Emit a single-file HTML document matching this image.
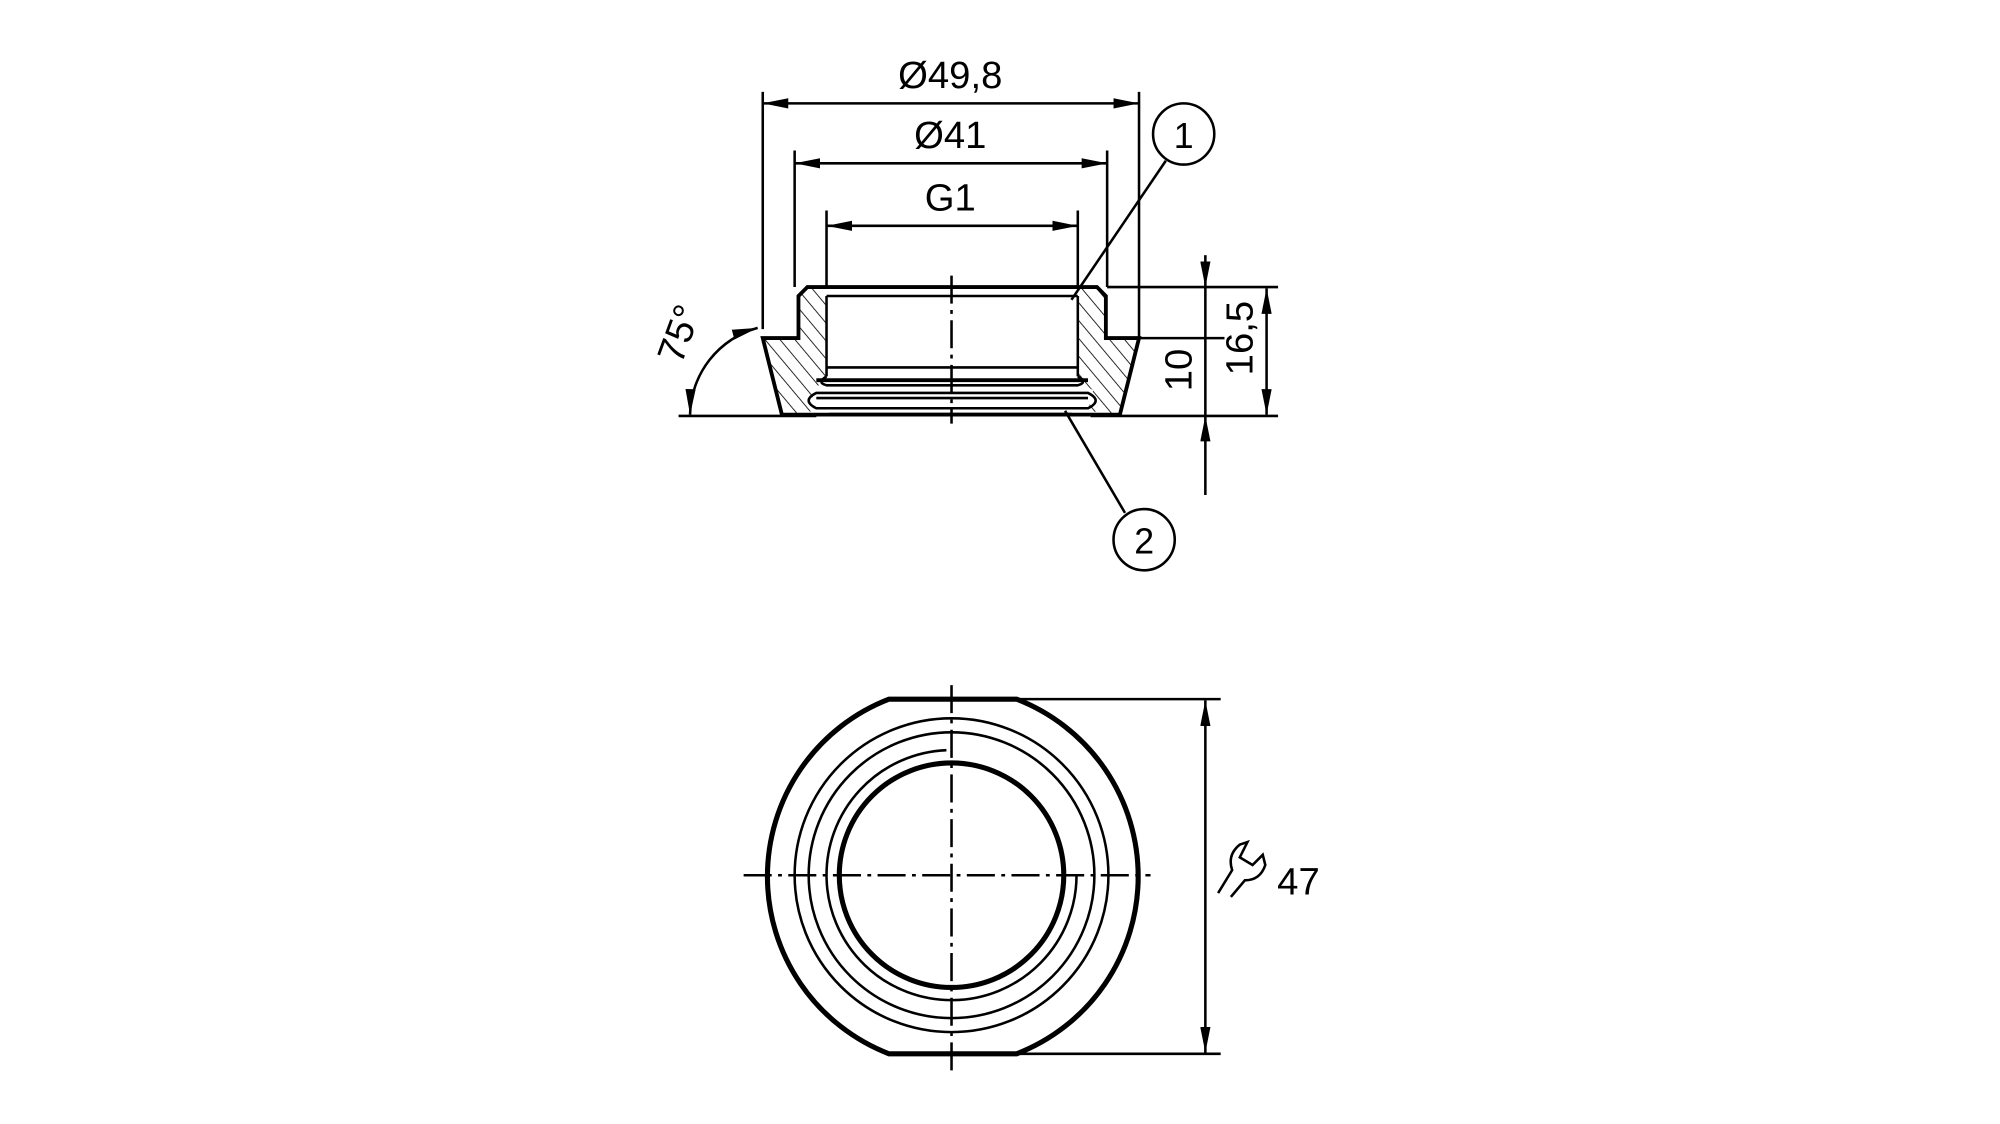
<!DOCTYPE html>
<html><head><meta charset="utf-8"><style>html,body{margin:0;padding:0;background:#fff}svg{display:block}</style></head><body>
<svg width="2000" height="1124" viewBox="0 0 1568 881" preserveAspectRatio="none" xmlns="http://www.w3.org/2000/svg" font-family="Liberation Sans, sans-serif">
<defs>
<marker id="a" viewBox="0 0 20 8" refX="20" refY="4" markerWidth="20" markerHeight="8" orient="auto-start-reverse" markerUnits="userSpaceOnUse"><path d="M0,0 L20,4 L0,8z" fill="#000"/></marker>
<pattern id="h" width="9" height="9" patternUnits="userSpaceOnUse" patternTransform="rotate(-40)"><line x1="0" y1="0" x2="0" y2="9" stroke="#000" stroke-width="1.3"/></pattern>
</defs>
<g stroke="#000" fill="none" stroke-width="2">
<line x1="598" y1="72" x2="598" y2="258"/><line x1="893" y1="72" x2="893" y2="265"/>
<line x1="623" y1="118" x2="623" y2="225"/><line x1="868" y1="118" x2="868" y2="225"/>
<line x1="648" y1="165" x2="648" y2="225"/><line x1="845" y1="165" x2="845" y2="225"/>
<line x1="598" y1="81" x2="893" y2="81" marker-start="url(#a)" marker-end="url(#a)"/>
<line x1="623" y1="128" x2="868" y2="128" marker-start="url(#a)" marker-end="url(#a)"/>
<line x1="648" y1="177" x2="845" y2="177" marker-start="url(#a)" marker-end="url(#a)"/>
<path d="M626,232 L632,225 L648,225 L648,298 L636,306 L640,322 L613,325 L598,265 L626,265 Z" fill="url(#h)" stroke="none"/>
<path d="M866,232 L860,225 L845,225 L845,298 L857,306 L853,322 L878,325 L893,265 L866,265 Z" fill="url(#h)" stroke="none"/>
<g stroke-width="3">
<path d="M598,265 L626,265 L626,232 L633,225 L860,225 L867,232 L867,265 L893,265 L878,325 L613,325 Z"/>
</g>
<line x1="648" y1="232" x2="845" y2="232"/>
<line x1="648" y1="232" x2="648" y2="295"/><line x1="845" y1="232" x2="845" y2="295"/>
<line x1="648" y1="288" x2="845" y2="288"/>
<path d="M648,295 Q640,300 648,302 L845,302 Q853,300 845,295" stroke-width="2"/>
<line x1="640" y1="298" x2="853" y2="298" stroke-width="3"/>
<path d="M640,308 Q628,314 640,320 L853,320 Q865,314 853,308 Z" stroke-width="2"/>
<line x1="640" y1="312" x2="853" y2="312"/>
<line x1="650" y1="325" x2="840" y2="325" stroke-width="3"/>
<line x1="532" y1="326" x2="640" y2="326"/>
<line x1="855" y1="326" x2="1002" y2="326"/>
<line x1="868" y1="225" x2="1002" y2="225"/>
<line x1="893" y1="265" x2="960" y2="265"/>
<line x1="945" y1="200" x2="945" y2="225" marker-end="url(#a)"/>
<line x1="945" y1="225" x2="945" y2="326"/>
<line x1="945" y1="388" x2="945" y2="326" marker-end="url(#a)"/>
<line x1="993" y1="226" x2="993" y2="325" marker-start="url(#a)" marker-end="url(#a)"/>
<line x1="746" y1="216" x2="746" y2="332" stroke-dasharray="22,5,3,5"/>
<circle cx="928" cy="105" r="24"/><line x1="914" y1="126" x2="840" y2="235"/>
<circle cx="897" cy="423" r="24"/><line x1="882" y1="402" x2="835" y2="322"/>
<path d="M541,325 A72,72 0 0 1 594,257" marker-start="url(#a)" marker-end="url(#a)"/>
<g stroke-width="4">
<path d="M697,548 L797,548 A149,149 0 0 1 797,826 L697,826 A149,149 0 0 1 697,548 Z"/>
<circle cx="746" cy="686" r="88"/>
</g>
<circle cx="746" cy="686" r="123"/>
<circle cx="746" cy="686" r="112"/>
<path d="M742,588 A98,98 0 1 0 844,686"/>
<line x1="583" y1="686" x2="902" y2="686" stroke-dasharray="22,5,3,5"/>
<line x1="746" y1="537" x2="746" y2="840" stroke-dasharray="22,5,3,5"/>
<line x1="797" y1="548" x2="957" y2="548"/><line x1="797" y1="826" x2="957" y2="826"/>
<line x1="945" y1="549" x2="945" y2="825" marker-start="url(#a)" marker-end="url(#a)"/>
<path d="M955,700 L966,682 Q962,670 972,662 L978,660 L972,672 L982,678 L990,670 L992,678 Q988,690 976,690 L965,703" stroke-width="2"/>
</g>
<g font-size="30" fill="#000" text-anchor="middle">
<text x="745" y="69">Ø49,8</text>
<text x="745" y="116">Ø41</text>
<text x="745" y="165">G1</text>
<text x="928" y="116" font-size="28">1</text>
<text x="897" y="434" font-size="28">2</text>
<text transform="translate(934,290) rotate(-90)">10</text>
<text transform="translate(982,265) rotate(-90)">16,5</text>
<text transform="translate(542,265) rotate(-70)">75°</text>
<text x="1018" y="701">47</text>
</g>
</svg>
</body></html>
